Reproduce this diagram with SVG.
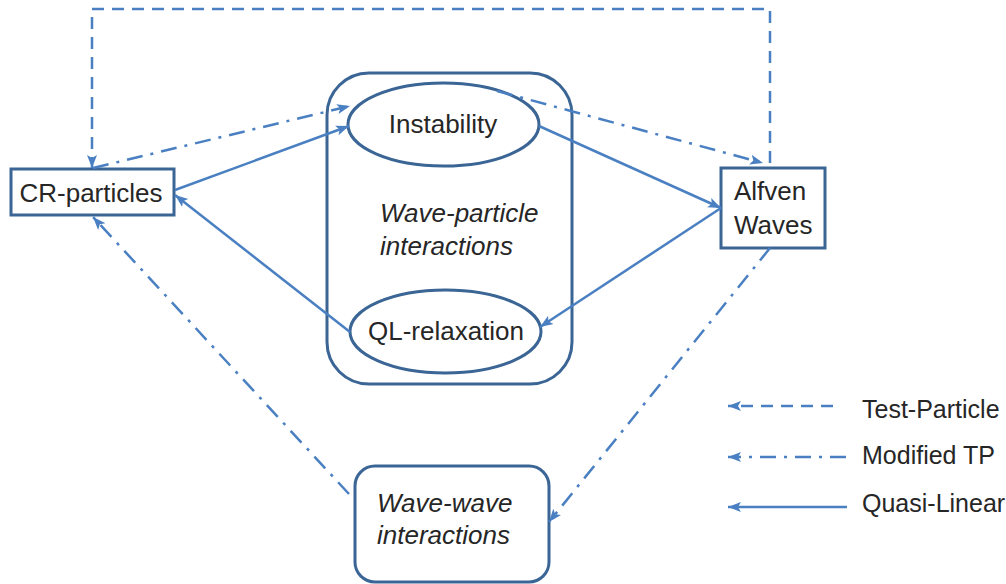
<svg xmlns="http://www.w3.org/2000/svg" width="1006" height="584" viewBox="0 0 1006 584">
<style>
.node{fill:#fff;stroke:#3A6595;stroke-width:3}
.lbl{font-family:"Liberation Sans",Arial,sans-serif;font-size:26px;fill:#262626}
.leg{font-size:25px}
.it{font-style:italic}
.c{fill:none;stroke:#4A80C2;stroke-width:2.5}
.dash{stroke-dasharray:12 8}
.dd{stroke-dasharray:16 8 3 8}
</style>
<defs>
<marker id="ah" markerUnits="userSpaceOnUse" markerWidth="14" markerHeight="12" viewBox="0 0 14 12" refX="13" refY="6" orient="auto">
<path d="M0,1 L13,6 L0,11 L3,6 Z" fill="#4A80C2"/>
</marker>
</defs>
<rect width="1006" height="584" fill="#fff"/>
<g id="wave-particle">
<rect class="node" x="327" y="73" width="245" height="311" rx="42" ry="42"/>
<text class="lbl it" x="380" y="222">Wave-particle</text>
<text class="lbl it" x="380" y="255">interactions</text>
</g>
<g id="instability">
<ellipse class="node" cx="443.5" cy="124.5" rx="95.5" ry="41.5"/>
<text class="lbl" x="443" y="133" text-anchor="middle">Instability</text>
</g>
<g id="ql-relaxation">
<ellipse class="node" cx="445.5" cy="331.5" rx="95.5" ry="41.5"/>
<text class="lbl" x="446" y="340" text-anchor="middle">QL-relaxation</text>
</g>
<g id="cr-particles">
<rect class="node" x="11" y="169" width="163" height="46"/>
<text class="lbl" x="91" y="202" text-anchor="middle">CR-particles</text>
</g>
<g id="alfven">
<rect class="node" x="721" y="168" width="104" height="80"/>
<text class="lbl" x="734" y="200">Alfven</text>
<text class="lbl" x="734" y="234">Waves</text>
</g>
<g id="wave-wave">
<rect class="node" x="355" y="466" width="194" height="116" rx="20" ry="20"/>
<text class="lbl it" x="377" y="512">Wave-wave</text>
<text class="lbl it" x="377" y="544">interactions</text>
</g>
<g id="connectors">
<path class="c dash" d="M770,163 L770,9 L92,9 L92,168" marker-end="url(#ah)"/>
<path class="c dd" d="M93,168 L350,106" marker-end="url(#ah)"/>
<path class="c" d="M175,190 L349,126" marker-end="url(#ah)"/>
<path class="c" d="M350,332 L175,195" marker-end="url(#ah)"/>
<path class="c" d="M539,126 L721,208" marker-end="url(#ah)"/>
<path class="c" d="M721,208 L540,327" marker-end="url(#ah)"/>
<path class="c dd" d="M497,91 L763,163" marker-end="url(#ah)"/>
<path class="c dd" d="M770,248 L549,522" marker-end="url(#ah)"/>
<path class="c dd" d="M349,494 L93,217" marker-end="url(#ah)"/>
</g>
<g id="legend">
<path class="c dash" d="M833,406 L728,406" marker-end="url(#ah)"/>
<path class="c dd" d="M846,457 L728,457" marker-end="url(#ah)"/>
<path class="c" d="M847,507 L728,507" marker-end="url(#ah)"/>
<text class="lbl leg" x="862" y="418">Test-Particle</text>
<text class="lbl leg" x="862" y="464">Modified TP</text>
<text class="lbl leg" x="862" y="512">Quasi-Linear</text>
</g>
</svg>
